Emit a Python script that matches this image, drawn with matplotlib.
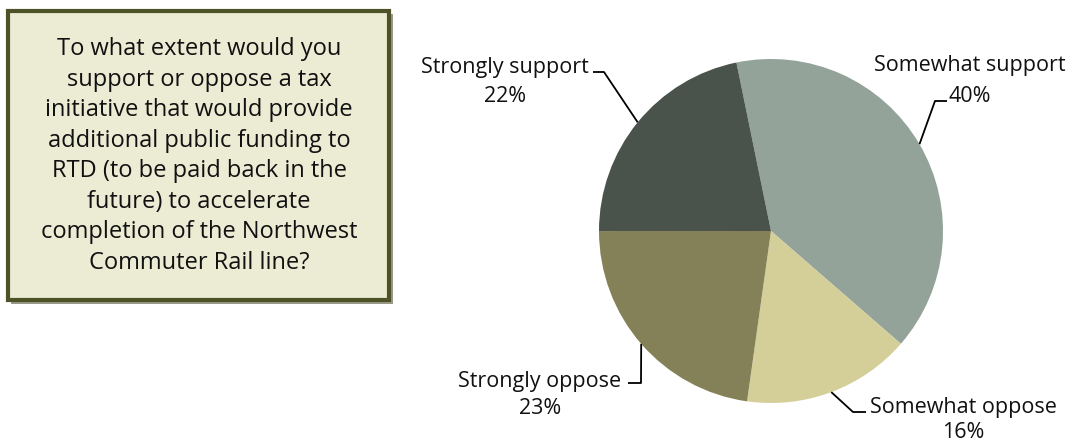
import numpy as np
import matplotlib
matplotlib.use("Agg")
import matplotlib.pyplot as plt
from matplotlib.patches import Rectangle

labels = ["Somewhat support", "Somewhat oppose", "Strongly oppose", "Strongly support"]
values = [40, 16, 23, 22]
colors = ["#93A399", "#D4CF98", "#848159", "#4A524C"]
question = ("To what extent would you\nsupport or oppose a tax\ninitiative that would provide\n"
            "additional public funding to\nRTD (to be paid back in the\nfuture) to accelerate\n"
            "completion of the Northwest\nCommuter Rail line?")

W, H = 1072, 442
plt.rcParams['font.family'] = ['Open Sans', 'DejaVu Sans']

fig = plt.figure(figsize=(W / 100, H / 100), dpi=100)
ax = fig.add_axes([0, 0, 1, 1])

cx, cy, r = 771, H - 231, 172
wedges, _ = ax.pie(values, colors=colors, startangle=101.6, counterclock=False,
                   center=(cx, cy), radius=r, frame=True,
                   wedgeprops=dict(linewidth=0))

# label text positions (pixel coords from top), elbow points for leader lines
label_pos = [(970, 66, 970, 97), (963, 408, 963, 433), (540, 381, 540, 409), (505, 68, 505, 97)]
elbows = [[(935, 101), (947, 101)], [(853, 412), (866, 412)],
          [(641, 383), (628, 383)], [(604, 72), (593, 72)]]

for w, lab, v, pos, elb in zip(wedges, labels, values, label_pos, elbows):
    mid = np.deg2rad((w.theta1 + w.theta2) / 2)
    sx, sy = cx + r * np.cos(mid), cy + r * np.sin(mid)
    xs = [sx] + [p[0] for p in elb]
    ys = [sy] + [H - p[1] for p in elb]
    ax.plot(xs, ys, color="black", lw=1.3, solid_capstyle="butt")
    ax.text(pos[0], H - pos[1], lab, ha="center", va="center", fontsize=15.5, color="#111111")
    ax.text(pos[2], H - pos[3], f"{v}%", ha="center", va="center", fontsize=15.5, color="#111111")

# question box
ax.add_patch(Rectangle((11, H - 304), 382, 290, facecolor="#9a9a8a", edgecolor="none"))
ax.add_patch(Rectangle((8, H - 300), 381, 289, facecolor="#ECEBD4",
                       edgecolor="#4E5227", linewidth=3))
ax.text(199, H - 156, question, ha="center", va="center", fontsize=17,
        linespacing=1.36, color="#111111")

ax.set_xlim(0, W)
ax.set_ylim(0, H)
ax.set_aspect("equal")
ax.axis("off")

fig.savefig("out.png", dpi=100)
